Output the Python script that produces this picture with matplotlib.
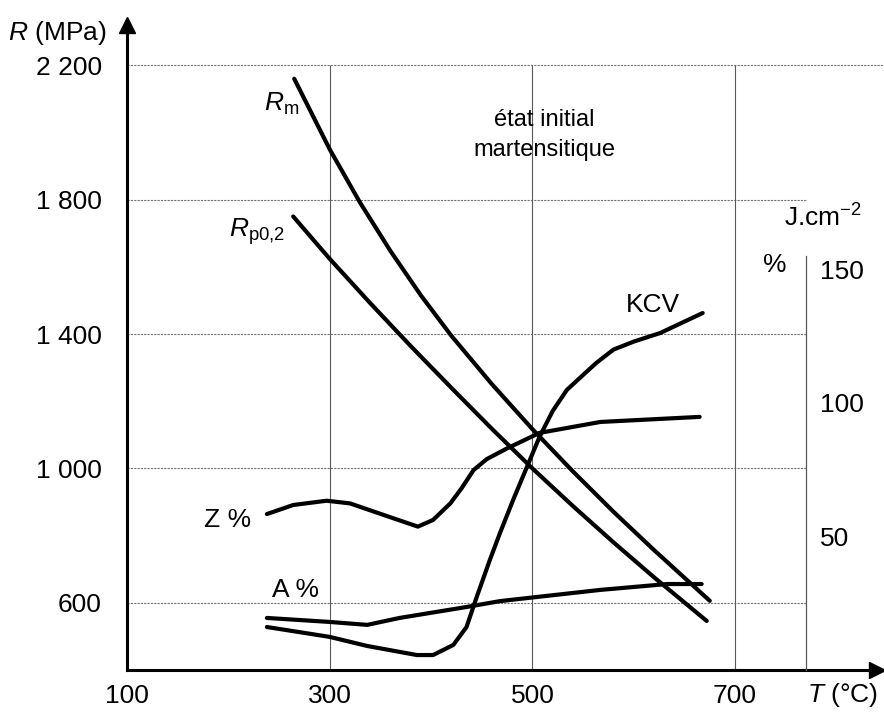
import matplotlib
matplotlib.use('Agg')
import matplotlib.pyplot as plt

plt.rcParams['font.family'] = ['Liberation Sans', 'DejaVu Sans']
plt.rcParams['mathtext.fontset'] = 'custom'
plt.rcParams['mathtext.rm'] = 'Liberation Sans'
plt.rcParams['mathtext.it'] = 'Liberation Sans:italic'

# Résistance (MPa) - axe de gauche
T_rm = [265, 300, 330, 360, 390, 420, 460, 500, 540, 580, 620, 675]
R_rm = [2160, 1950, 1791, 1647, 1515, 1395, 1251, 1117, 991, 871, 757, 606]

T_rp = [264, 300, 340, 380, 420, 460, 500, 540, 580, 620, 672]
R_rp = [1750, 1624, 1492, 1364, 1240, 1118, 1000, 888, 780, 676, 546]

# Z %, A % et KCV - axe de droite
T_z = [238, 264, 297, 320, 353, 387, 402, 419, 430, 442, 455, 475, 507, 567, 665]
Z = [58.4, 61.8, 63.4, 62.4, 58.1, 53.7, 56.2, 62.4, 68, 74.9, 79, 83, 88.8, 92.9, 94.8]

T_a = [238, 300, 337, 369, 435, 468, 567, 633, 667]
A = [19.5, 18, 16.9, 19.5, 23.6, 25.8, 30, 32.2, 32.2]

T_kcv = [238, 300, 337, 386, 402, 422, 435, 445, 458, 468, 481, 507, 520, 534, 550,
         563, 580, 600, 626, 668]
KCV = [16.1, 12.4, 9.0, 5.6, 5.6, 9.4, 16.1, 27.3, 41.2, 51.3, 63.7, 87.3, 97, 104.9, 110.5,
       115, 120, 123, 126.2, 133.7]

T_ticks = [100, 300, 500, 700]
R_ticks = [600, 1000, 1400, 1800, 2200]
R_labels = ['600', '1 000', '1 400', '1 800', '2 200']
right_ticks = [50, 100, 150]

fig = plt.figure(figsize=(8.84, 7.16), dpi=100)
ax = fig.add_axes([127 / 884, 46 / 716, 750 / 884, 645 / 716])
ax.set_xlim(100, 840)
ax.set_ylim(400, 2320)

for s in ['top', 'right']:
    ax.spines[s].set_visible(False)
ax.spines['left'].set_linewidth(2.2)
ax.spines['bottom'].set_linewidth(2.2)
ax.plot(0, 1, marker='^', ms=11, color='k', transform=ax.transAxes, clip_on=False)
ax.plot(1, 0, marker='>', ms=11, color='k', transform=ax.transAxes, clip_on=False)

# quadrillage
ax.hlines(R_ticks[:-1], 100, 770, color='0.45', lw=0.8, linestyles=(0, (2, 1)))
ax.hlines(R_ticks[-1], 100, 848, color='0.45', lw=0.8, linestyles=(0, (2, 1)), clip_on=False)
ax.vlines(T_ticks[1:], 400, 2200, color='0.35', lw=0.8)

ax.set_xticks(T_ticks)
ax.set_yticks(R_ticks, labels=R_labels)
ax.tick_params(length=0, labelsize=19)
ax.tick_params(axis='y', pad=18)
ax.tick_params(axis='x', pad=10)

line_kw = dict(color='k', lw=3, solid_capstyle='round', solid_joinstyle='round')
ax.plot(T_rm, R_rm, **line_kw)
ax.plot(T_rp, R_rp, **line_kw)

# axe de droite
ax2 = ax.twinx()
ax2.set_ylim(0, 645 / 2.67)
for s in ['top', 'left', 'bottom']:
    ax2.spines[s].set_visible(False)
ax2.spines['right'].set_position(('data', 770))
ax2.spines['right'].set_bounds(0, 155)
ax2.spines['right'].set_color('0.35')
ax2.spines['right'].set_linewidth(0.9)
ax2.set_yticks(right_ticks)
ax2.tick_params(length=0, pad=10, labelsize=19)

ax2.plot(T_z, Z, **line_kw)
ax2.plot(T_a, A, **line_kw)
ax2.plot(T_kcv, KCV, **line_kw)

# textes
fig.text(57 / 884, 1 - 33 / 716, '$R$ (MPa)', ha='center', va='center', fontsize=19)
fig.text(843 / 884, 1 - 695 / 716, '$T$ (°C)', ha='center', va='center', fontsize=19)

ax.text(253, 2084, r'$R_{\mathrm{m}}$', ha='center', va='center', fontsize=19)
ax.text(228, 1704, r'$R_{\mathrm{p0{,}2}}$', ha='center', va='center', fontsize=19)
ax.text(512, 1992, 'état initial\nmartensitique', ha='center', va='center',
        fontsize=17, linespacing=1.5)
ax.text(619, 1486, 'KCV', ha='center', va='center', fontsize=19)
ax.text(199, 846, 'Z %', ha='center', va='center', fontsize=19)
ax.text(266, 638, 'A %', ha='center', va='center', fontsize=19)
ax.text(787, 1745, r'J.cm$^{-2}$', ha='center', va='center', fontsize=19, clip_on=False)
ax.text(739, 1605, '%', ha='center', va='center', fontsize=19)

fig.savefig('out.png', dpi=100, facecolor='white')
